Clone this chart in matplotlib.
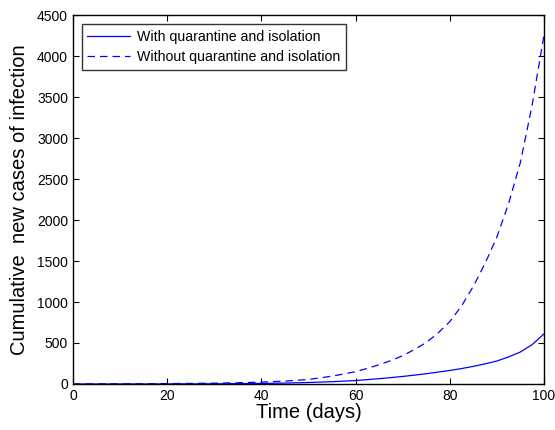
import matplotlib

matplotlib.use("Agg")
import matplotlib.pyplot as plt

plt.rcParams["font.family"] = ["Liberation Sans", "DejaVu Sans"]

# values
days = [0, 5, 10, 15, 20, 25, 30, 35, 40, 45, 50, 55, 60, 62.5, 65, 67.5, 70, 72.5, 75, 77.5,
        80, 82.5, 85, 87.5, 90, 92.5, 95, 97.5, 100]
with_quarantine = [0, 0.2, 0.4, 0.7, 1, 1.6, 2.5, 4, 7, 11, 18, 28, 42, 53, 65, 78, 92, 108, 125, 145,
                   165, 188, 215, 245, 280, 330, 390, 480, 610]
without_quarantine = [0, 1, 2, 3, 5, 7, 10, 15, 23, 35, 55, 95, 150, 190, 235, 285, 345, 420, 505, 620,
                      760, 950, 1190, 1470, 1790, 2200, 2700, 3400, 4250]

x_ticks = [0, 20, 40, 60, 80, 100]
y_ticks = [0, 500, 1000, 1500, 2000, 2500, 3000, 3500, 4000, 4500]

fig = plt.figure(figsize=(5.55, 4.30), dpi=100)
ax = fig.add_axes([0.1315, 0.107, 0.8485, 0.858])

ax.plot(days, with_quarantine, "-", color="#0000ff", lw=0.9,
        label="With quarantine and isolation")
ax.plot(days, without_quarantine, "--", color="#0000ff", lw=0.9, dashes=(6, 4),
        label="Without quarantine and isolation")

ax.set_xlim(0, 100)
ax.set_ylim(0, 4500)
ax.set_xticks(x_ticks)
ax.set_yticks(y_ticks)
ax.tick_params(direction="in", top=True, right=True, labelsize=10, length=4, width=0.8)
for s in ax.spines.values():
    s.set_linewidth(1.0)

ax.set_xlabel("Time (days)", fontsize=14.5, labelpad=0)
ax.set_ylabel("Cumulative  new cases of infection", fontsize=14.5, labelpad=6)

leg = ax.legend(loc="upper left", bbox_to_anchor=(0.0185, 0.976), fontsize=10.2,
                frameon=True, fancybox=False, edgecolor="black", borderaxespad=0,
                handlelength=3.0, borderpad=0.4, labelspacing=0.45, handletextpad=0.5)
leg.get_frame().set_linewidth(1.0)

fig.savefig("out.png", dpi=100)
plt.close(fig)
